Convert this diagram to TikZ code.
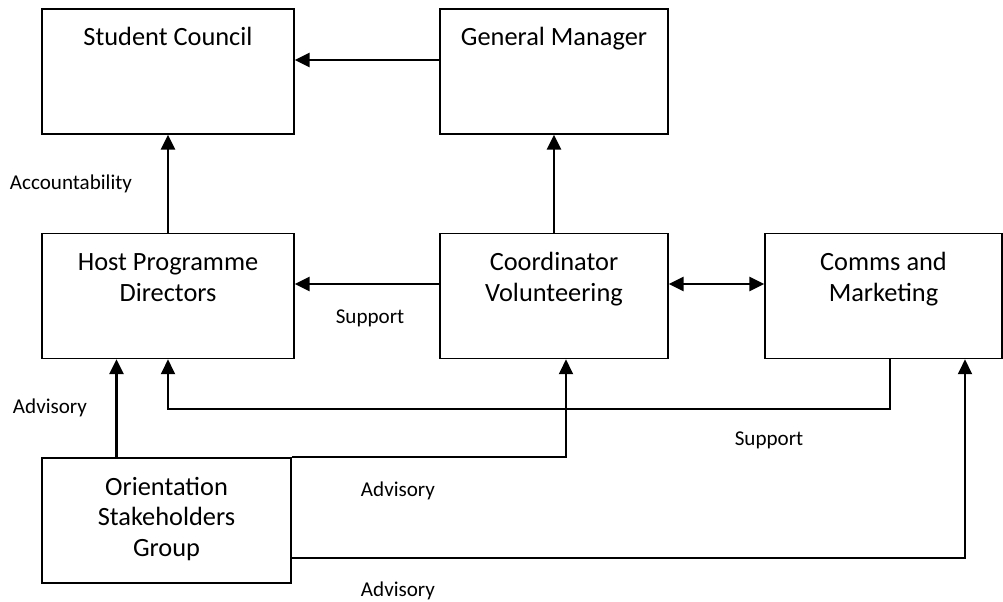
\documentclass[tikz,border=0pt]{standalone}
\usepackage{fontspec}
\setmainfont{Carlito}
\usetikzlibrary{arrows.meta}
\tikzstyle{line} = [draw, line width=1.4pt, ->, >={Triangle[length=8.5pt,width=8pt]}]
\tikzstyle{thinline} = [line, line width=1pt]
\tikzstyle{unit} = [rectangle, draw, line width=0.9pt, inner sep=0pt, font=\fontsize{15}{17.5}\selectfont]
\tikzstyle{note} = [font=\fontsize{12}{14}\selectfont]
\newcommand{\boxtext}[2]{\parbox[c][2.5cm][t]{#1}{\centering\rule{0pt}{0.74cm}#2}}

\begin{document}
\begin{tikzpicture}
		\useasboundingbox (0,0) rectangle (20.06,-12.04);

		\node[unit] (sc) at (3.36,-1.43) {\boxtext{5.04cm}{Student Council}};
		\node[unit] (gm) at (11.08,-1.43) {\boxtext{4.56cm}{General Manager}};
		\path [line] ([yshift=0.23cm]gm.west) to ([yshift=0.23cm]gm.west -| sc.east);

		\node[unit] (hpd) at (3.36,-5.92) {\boxtext{5.04cm}{Host Programme\\Directors}};
		\node[unit] (cv) at (11.08,-5.92) {\boxtext{4.56cm}{Coordinator\\Volunteering}};
		\node[unit] (cm) at (17.67,-5.92) {\boxtext{4.74cm}{Comms and\\Marketing}};

		\path [line] (hpd.north) to (sc.south);
		\path [line] (cv.north) to (gm.south);
		\path [line] ([yshift=0.24cm]cv.west) to ([yshift=0.24cm]cv.west -| hpd.east);
		\path [line, <->] ([yshift=0.24cm]cv.east) to ([yshift=0.24cm]cv.east -| cm.west);

		\node[unit] (osg) at (3.33,-10.41) {\boxtext{4.98cm}{Orientation\\Stakeholders\\Group}};

		\path [line] ([xshift=-1cm]osg.north) to ([xshift=-1cm]osg.north |- hpd.south);
		\path [thinline] ([xshift=0.13cm]cm.south) -- ++(0,-1) -| (hpd.south);
		\path [thinline] (osg.north east) -| ([xshift=0.24cm]cv.south);
		\path [thinline] ([yshift=-0.75cm]osg.east) -| ([xshift=1.63cm]cm.south);

		\node[note] (acc) at (1.42,-3.68) {Accountability};
		\node[note] (sup1) at (7.4,-6.36) {Support};
		\node[note] (adv1) at (1.0,-8.16) {Advisory};
		\node[note] (sup2) at (15.38,-8.8) {Support};
		\node[note] (adv2) at (7.96,-9.82) {Advisory};
		\node[note] (adv3) at (7.96,-11.82) {Advisory};
	\end{tikzpicture}
\end{document}
